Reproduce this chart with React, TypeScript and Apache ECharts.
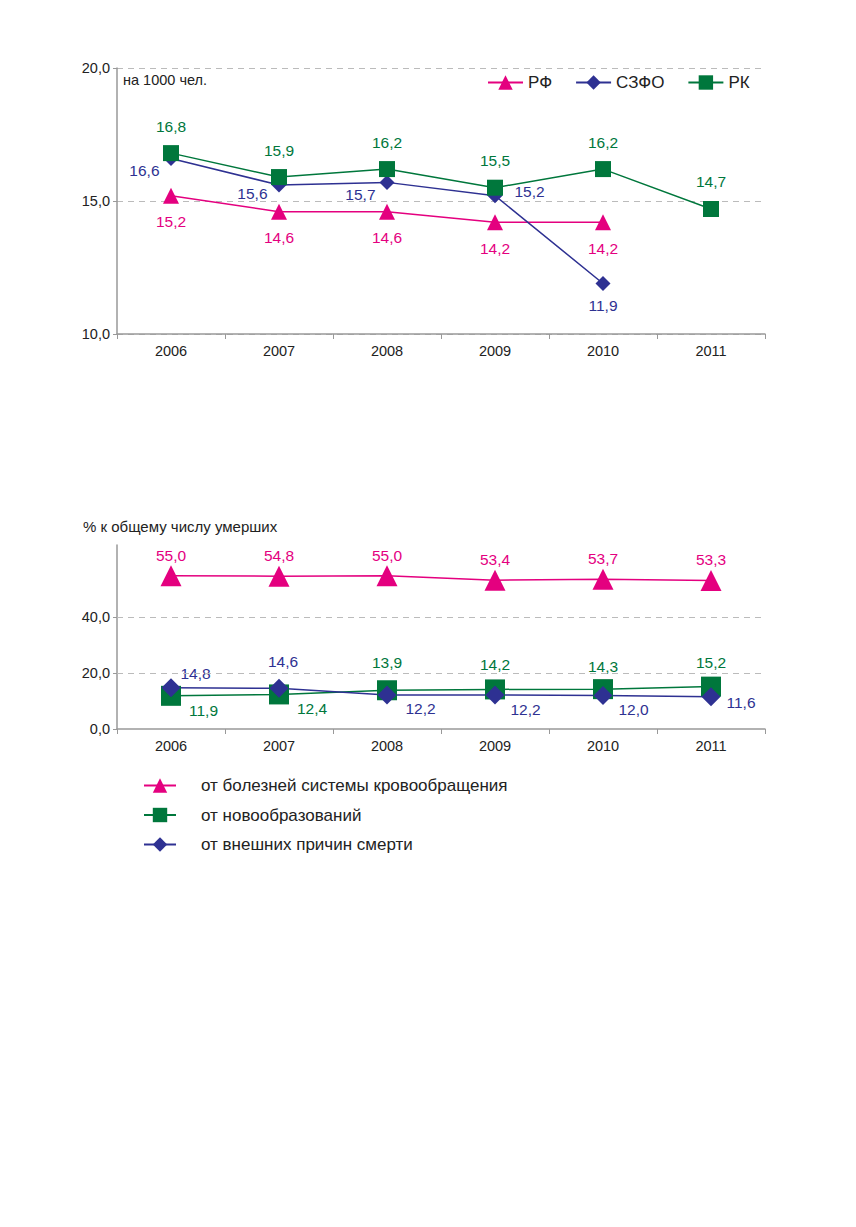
import React, { useEffect, useRef } from "react";
import * as echarts from "echarts";

const years = ["2006", "2007", "2008", "2009", "2010", "2011"];

// Top chart (на 1000 чел.)
const rfValues = [15.2, 14.6, 14.6, 14.2, 14.2, null];
const szfoValues = [16.6, 15.6, 15.7, 15.2, 11.9, null];
const rkValues = [16.8, 15.9, 16.2, 15.5, 16.2, 14.7];
const topNames = ["РФ", "СЗФО", "РК"];

// Bottom chart (% к общему числу умерших)
const circValues = [55.0, 54.8, 55.0, 53.4, 53.7, 53.3];
const neoValues = [11.9, 12.4, 13.9, 14.2, 14.3, 15.2];
const extValues = [14.8, 14.6, 12.2, 12.2, 12.0, 11.6];
const bottomNames = [
  "от болезней системы кровообращения",
  "от новообразований",
  "от внешних причин смерти",
];

const PINK = "#e4007f";
const BLUE = "#2e3192";
const GREEN = "#00773c";
const FONT = "'Liberation Sans', Arial, sans-serif";
const LABEL_SIZE = 15.5;

type Place = { position: string; distance: number; offset?: number[] };

const szfoPlaces: Place[] = [
  { position: "left", distance: 4, offset: [0, 12] },
  { position: "left", distance: 4, offset: [0, 8] },
  { position: "left", distance: 4, offset: [0, 12] },
  { position: "right", distance: 12, offset: [0, -4] },
  { position: "bottom", distance: 7 },
  { position: "bottom", distance: 7 },
];
const neoPlaces: Place[] = [
  { position: "right", distance: 8, offset: [0, 15] },
  { position: "right", distance: 8, offset: [0, 14] },
  { position: "top", distance: 10 },
  { position: "top", distance: 7 },
  { position: "top", distance: 5 },
  { position: "top", distance: 6 },
];
const extPlaces: Place[] = [
  { position: "right", distance: 0, offset: [0, -14] },
  { position: "top", distance: 9, offset: [4, 0] },
  { position: "right", distance: 9, offset: [0, 14] },
  { position: "right", distance: 6, offset: [0, 15] },
  { position: "right", distance: 6, offset: [0, 14] },
  { position: "right", distance: 6, offset: [0, 6] },
];

const fmt = (v: number) => v.toFixed(1).replace(".", ",");

function withPlaces(values: (number | null)[], places: Place[], color: string) {
  return values.map((v, i) => ({
    value: v,
    label: {
      show: v !== null,
      position: places[i].position,
      distance: places[i].distance,
      offset: places[i].offset || [0, 0],
      color,
      fontSize: LABEL_SIZE,
      fontFamily: FONT,
      formatter: (p: any) => fmt(p.value),
    },
  }));
}

function labelCfg(color: string, position: string, distance: number) {
  return {
    show: true,
    position,
    distance,
    color,
    fontSize: LABEL_SIZE,
    fontFamily: FONT,
    formatter: (p: any) => fmt(p.value),
  };
}

const axisLabelStyle = { color: "#222", fontSize: 14.5, fontFamily: FONT };

export default function App() {
  const ref = useRef<HTMLDivElement>(null);
  useEffect(() => {
    if (!ref.current) return;
    const chart = echarts.init(ref.current, undefined, { renderer: "svg" });
    const option: any = {
      animation: false,
      backgroundColor: "#fff",
      textStyle: { fontFamily: FONT },
      grid: [
        { left: 117, top: 68, width: 648, height: 266 },
        { left: 117, top: 545, width: 648, height: 184 },
      ],
      legend: [
        {
          data: topNames,
          left: 482,
          top: 69,
          itemWidth: 35,
          itemHeight: 18,
          itemGap: 23,
          textStyle: { fontSize: 17, color: "#222", fontFamily: FONT },
        },
        {
          data: bottomNames,
          orient: "vertical",
          left: 138,
          top: 772,
          itemWidth: 32,
          itemHeight: 18,
          itemGap: 12.5,
          textStyle: {
            fontSize: 17,
            color: "#222",
            fontFamily: FONT,
            padding: [0, 0, 0, 20],
          },
        },
      ],
      graphic: [
        {
          type: "text",
          left: 123,
          top: 72,
          style: { text: "на 1000 чел.", fontSize: 14.5, fill: "#222", fontFamily: FONT },
        },
        {
          type: "text",
          left: 83,
          top: 519,
          style: { text: "% к общему числу умерших", fontSize: 15, fill: "#222", fontFamily: FONT },
        },
      ],
      xAxis: [0, 1].map((g) => ({
        type: "category",
        gridIndex: g,
        data: years,
        boundaryGap: true,
        axisLine: { lineStyle: { color: "#999", width: 1.5 } },
        axisTick: { show: true, length: 5, lineStyle: { color: "#999" } },
        axisLabel: { ...axisLabelStyle, margin: 9 },
      })),
      yAxis: [
        {
          type: "value",
          gridIndex: 0,
          min: 10,
          max: 20,
          interval: 5,
          axisLine: { show: true, lineStyle: { color: "#999", width: 1.5 } },
          axisTick: { show: true, length: 4, lineStyle: { color: "#999" } },
          axisLabel: { ...axisLabelStyle, margin: 7, formatter: (v: number) => fmt(v) },
          splitLine: { show: true, lineStyle: { type: [6, 5], color: "#bbb", width: 1 } },
        },
        {
          type: "value",
          gridIndex: 1,
          min: 0,
          max: 66,
          interval: 20,
          axisLine: { show: true, lineStyle: { color: "#999", width: 1.5 } },
          axisTick: { show: true, length: 4, customValues: [0, 20, 40], lineStyle: { color: "#999" } },
          axisLabel: {
            ...axisLabelStyle,
            margin: 7,
            customValues: [0, 20, 40],
            formatter: (v: number) => fmt(v),
          },
          splitLine: { show: false },
        },
      ],
      series: [
        {
          name: "РФ",
          type: "line",
          xAxisIndex: 0,
          yAxisIndex: 0,
          data: rfValues,
          symbol: "triangle",
          symbolSize: 16,
          color: PINK,
          lineStyle: { color: PINK, width: 1.5 },
          itemStyle: { color: PINK },
          label: labelCfg(PINK, "bottom", 10),
        },
        {
          name: "СЗФО",
          type: "line",
          xAxisIndex: 0,
          yAxisIndex: 0,
          data: withPlaces(szfoValues, szfoPlaces, BLUE),
          symbol: "diamond",
          symbolSize: 15,
          color: BLUE,
          lineStyle: { color: BLUE, width: 1.5 },
          itemStyle: { color: BLUE },
        },
        {
          name: "РК",
          type: "line",
          xAxisIndex: 0,
          yAxisIndex: 0,
          data: rkValues,
          symbol: "rect",
          symbolSize: 16,
          color: GREEN,
          lineStyle: { color: GREEN, width: 1.5 },
          itemStyle: { color: GREEN },
          label: labelCfg(GREEN, "top", 11),
        },
        {
          name: bottomNames[0],
          type: "line",
          xAxisIndex: 1,
          yAxisIndex: 1,
          data: circValues,
          symbol: "triangle",
          symbolSize: 21,
          color: PINK,
          lineStyle: { color: PINK, width: 1.5 },
          itemStyle: { color: PINK },
          label: labelCfg(PINK, "top", 2),
          markLine: {
            silent: true,
            symbol: "none",
            label: { show: false },
            lineStyle: { type: [6, 5], color: "#bbb", width: 1 },
            data: [{ yAxis: 20 }, { yAxis: 40 }],
          },
        },
        {
          name: bottomNames[1],
          type: "line",
          xAxisIndex: 1,
          yAxisIndex: 1,
          data: withPlaces(neoValues, neoPlaces, GREEN),
          symbol: "rect",
          symbolSize: 20,
          color: GREEN,
          lineStyle: { color: GREEN, width: 1.5 },
          itemStyle: { color: GREEN },
        },
        {
          name: bottomNames[2],
          type: "line",
          xAxisIndex: 1,
          yAxisIndex: 1,
          data: withPlaces(extValues, extPlaces, BLUE),
          symbol: "diamond",
          symbolSize: 19,
          color: BLUE,
          lineStyle: { color: BLUE, width: 1.5 },
          itemStyle: { color: BLUE },
        },
      ],
    };
    chart.setOption(option);
    return () => chart.dispose();
  }, []);
  return (
    <div
      ref={ref}
      style={{ position: "absolute", left: 0, top: 0, width: 856, height: 1227 }}
    />
  );
}
